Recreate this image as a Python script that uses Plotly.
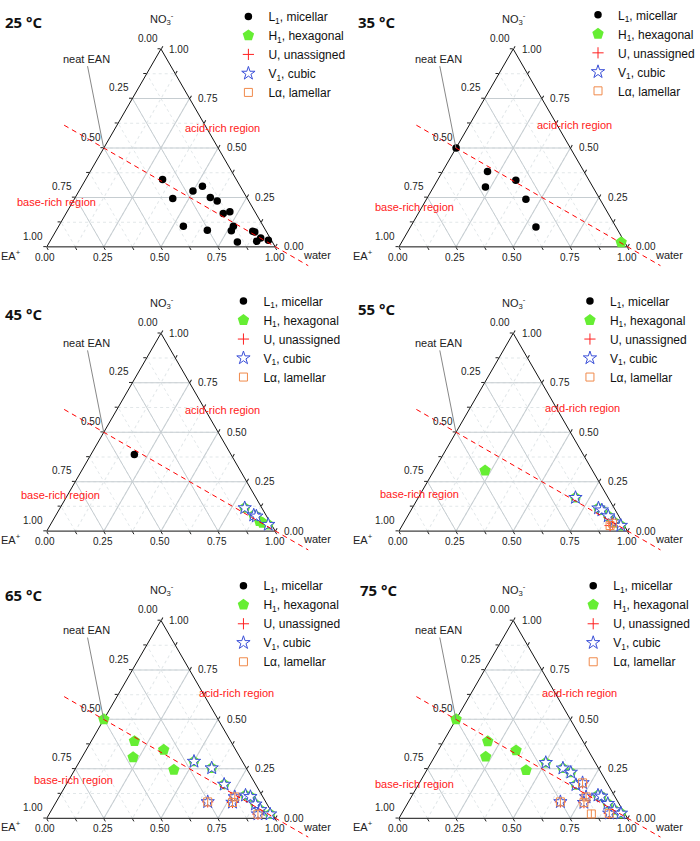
import math
import plotly.graph_objects as go

FONT = "Arial, Liberation Sans, sans-serif"
W, H = 700, 841

# ---------------- data (fractions) ----------------
# a = NO3- fraction (top vertex), c = water fraction (bottom-right vertex);
# the EA+ fraction (bottom-left vertex) is 1 - a - c (filled in by plotly, sum = 1)
temps = ["25 °C", "35 °C", "45 °C", "55 °C", "65 °C", "75 °C"]

l1_25_no3 = [0.340, 0.245, 0.282, 0.307, 0.250, 0.232, 0.169, 0.177, 0.104,
             0.084, 0.104, 0.082, 0.025, 0.079, 0.075, 0.028, 0.045, 0.034]
l1_25_water = [0.337, 0.429, 0.499, 0.528, 0.591, 0.630, 0.688, 0.713, 0.546,
               0.661, 0.765, 0.767, 0.822, 0.862, 0.873, 0.905, 0.914, 0.953]

l1_35_no3 = [0.500, 0.381, 0.303, 0.337, 0.241, 0.101]
l1_35_water = [0.000, 0.197, 0.227, 0.343, 0.435, 0.549]
h1_35_no3 = [0.023]
h1_35_water = [0.961]

l1_45_no3 = [0.387]
l1_45_water = [0.190]
h1_45_no3 = [0.117, 0.080, 0.075, 0.050, 0.042, 0.033]
h1_45_water = [0.808, 0.866, 0.880, 0.906, 0.924, 0.953]
v1_45_no3 = [0.117, 0.080, 0.075, 0.033]
v1_45_water = [0.808, 0.866, 0.880, 0.953]

h1_55_no3 = [0.306, 0.169, 0.116, 0.106, 0.076, 0.045, 0.028]
h1_55_water = [0.224, 0.688, 0.815, 0.835, 0.878, 0.920, 0.957]
v1_55_no3 = [0.169, 0.116, 0.106, 0.076, 0.045, 0.028]
v1_55_water = [0.688, 0.815, 0.835, 0.878, 0.920, 0.957]
la_55_no3 = [0.028, 0.040]
la_55_water = [0.910, 0.915]
u_55_no3 = [0.028, 0.040]
u_55_water = [0.910, 0.915]

h1_65_no3 = [0.500, 0.390, 0.308, 0.346, 0.245,
             0.287, 0.254, 0.171, 0.116, 0.109, 0.071, 0.043, 0.021]
h1_65_water = [0.000, 0.189, 0.224, 0.339, 0.434,
               0.501, 0.595, 0.691, 0.812, 0.837, 0.878, 0.913, 0.967]
v1_65_no3 = [0.287, 0.254, 0.171, 0.116, 0.109, 0.071, 0.043, 0.021,
             0.083, 0.080, 0.108, 0.021]
v1_65_water = [0.501, 0.595, 0.691, 0.812, 0.837, 0.878, 0.913, 0.967,
               0.663, 0.773, 0.769, 0.914]
la_65_no3 = [0.083, 0.080, 0.108, 0.021]
la_65_water = [0.663, 0.773, 0.769, 0.914]
u_65_no3 = [0.083, 0.080, 0.108, 0.021]
u_65_water = [0.663, 0.773, 0.769, 0.914]

h1_75_no3 = [0.500, 0.389, 0.311, 0.343, 0.243,
             0.281, 0.253, 0.232, 0.169, 0.116, 0.111, 0.074, 0.042, 0.025]
h1_75_water = [0.000, 0.194, 0.224, 0.341, 0.435,
               0.502, 0.591, 0.636, 0.690, 0.813, 0.830, 0.877, 0.922, 0.959]
v1_75_no3 = [0.281, 0.253, 0.232, 0.169, 0.116, 0.111, 0.074, 0.042, 0.025,
             0.179, 0.083, 0.108, 0.079, 0.025]
v1_75_water = [0.502, 0.591, 0.636, 0.690, 0.813, 0.830, 0.877, 0.922, 0.959,
               0.714, 0.665, 0.765, 0.770, 0.908]
la_75_no3 = [0.179, 0.083, 0.108, 0.079, 0.025, 0.022]
la_75_water = [0.714, 0.665, 0.765, 0.770, 0.908, 0.831]
u_75_no3 = [0.179, 0.083, 0.108, 0.079, 0.025]
u_75_water = [0.714, 0.665, 0.765, 0.770, 0.908]

EMPTY = [None]

# per panel tables built from the arrays above: (no3, water) for each phase
panel_l1 = [(l1_25_no3, l1_25_water), (l1_35_no3, l1_35_water), (l1_45_no3, l1_45_water),
            (EMPTY, EMPTY), (EMPTY, EMPTY), (EMPTY, EMPTY)]
panel_h1 = [(EMPTY, EMPTY), (h1_35_no3, h1_35_water), (h1_45_no3, h1_45_water),
            (h1_55_no3, h1_55_water), (h1_65_no3, h1_65_water), (h1_75_no3, h1_75_water)]
panel_u = [(EMPTY, EMPTY), (EMPTY, EMPTY), (EMPTY, EMPTY),
           (u_55_no3, u_55_water), (u_65_no3, u_65_water), (u_75_no3, u_75_water)]
panel_v1 = [(EMPTY, EMPTY), (EMPTY, EMPTY), (v1_45_no3, v1_45_water),
            (v1_55_no3, v1_55_water), (v1_65_no3, v1_65_water), (v1_75_no3, v1_75_water)]
panel_la = [(EMPTY, EMPTY), (EMPTY, EMPTY), (EMPTY, EMPTY),
            (la_55_no3, la_55_water), (la_65_no3, la_65_water), (la_75_no3, la_75_water)]

# axis tick values (fraction along each edge)
tick_vals = [0.0, 0.25, 0.5, 0.75, 1.0]

# reference lines / labels in ternary coordinates (NO3-, water)
neat_ean = (0.5, 0.0)
ref_line_start = (0.615, -0.23)   # EA+ = NO3- line, extended beyond the triangle
ref_line_end = (-0.095, 1.19)
acid_label_pos = [(0.60, 0.47), (0.617, 0.459), (0.614, 0.461), (0.624, 0.489), (0.632, 0.515), (0.634, 0.472)]
base_label_pos = [(0.229, -0.071), (0.201, -0.032), (0.18, -0.027), (0.189, -0.005), (0.192, 0.022), (0.174, -0.018)]

# ---------------- layout geometry (pixels) ----------------
SIDE = 231.5
TRI_H = SIDE * math.sqrt(3) / 2
tri_cx = [162.6, 518.4, 162.6, 518.4, 162.6, 518.4]
tri_base = [239.0, 239.0, 527.0, 527.0, 818.0, 818.0]
title_px = [(3, 11), (360, 11), (3, 306.7), (360, 301.7), (3, 591.7), (362, 586.7)]
legend_text_x = [266.7, 620.0, 261.7, 611.7, 261.7, 615.0]
legend_row1_y = [9.8, 8.2, 298.2, 298.2, 586.7, 586.7]


def to_paper(i, a, c):
    x = tri_cx[i] - SIDE / 2 + SIDE * (c + a / 2)
    y = tri_base[i] - TRI_H * a
    return x / W, 1 - y / H


def offset(pt, dx, dy):
    return pt[0] + dx / W, pt[1] - dy / H


def domain(i):
    return dict(x=[(tri_cx[i] - SIDE / 2) / W, (tri_cx[i] + SIDE / 2) / W],
                y=[1 - tri_base[i] / H, 1 - (tri_base[i] - TRI_H) / H])


minor_vals = [k / 8 for k in range(9)]

minor_axis = dict(tickmode="array", tickvals=minor_vals,
                  ticks="outside", ticklen=3, tickwidth=1, tickcolor="#222",
                  showticklabels=False, showgrid=True, gridcolor="#e2e7e9",
                  griddash="dot", gridwidth=1, showline=False,
                  layer="below traces", title=dict(text=""))
major_axis = dict(tickmode="array", tickvals=tick_vals,
                  ticks="", showticklabels=False,
                  showgrid=True, gridcolor="#c6cdd1", gridwidth=1,
                  showline=True, linecolor="#111", linewidth=1,
                  layer="below traces", title=dict(text=""))

GREEN = "#66ee33"
BLUE = "#3a4fd8"
ORANGE = "#f08a4b"
RED = "#ff2020"
TXT = "#222"

traces = []
layout = dict(width=W, height=H, margin=dict(l=0, r=0, t=0, b=0),
              paper_bgcolor="white", plot_bgcolor="white",
              font=dict(family=FONT, size=11, color=TXT),
              annotations=[], shapes=[])


def text_ann(x, y, text, size=11, color=TXT, xanchor="center", yanchor="middle", family=None):
    f = dict(size=size, color=color)
    if family:
        f["family"] = family
    return dict(x=x, y=y, xref="paper", yref="paper", showarrow=False, text=text,
                xanchor=xanchor, yanchor=yanchor, font=f)


for i in range(6):
    base_id = "ternary" if i == 0 else "ternary%d" % (2 * i + 1)
    top_id = "ternary%d" % (2 * i + 2)
    leg_id = "legend" if i == 0 else "legend%d" % (i + 1)

    layout[base_id] = dict(domain=domain(i), sum=1, bgcolor="rgba(0,0,0,0)",
                           aaxis=minor_axis, baxis=minor_axis, caxis=minor_axis)
    layout[top_id] = dict(domain=domain(i), sum=1, bgcolor="rgba(0,0,0,0)",
                          aaxis=major_axis, baxis=major_axis, caxis=major_axis)
    layout[leg_id] = dict(x=(legend_text_x[i] - 36) / W, y=1 - (legend_row1_y[i] - 19) / H,
                          xanchor="left", yanchor="top", bgcolor="rgba(0,0,0,0)",
                          borderwidth=0, tracegroupgap=0,
                          font=dict(family=FONT, size=12, color="#111"))

    traces.append(go.Scatterternary(a=EMPTY, c=EMPTY, subplot=base_id, mode="markers",
                                    showlegend=False, hoverinfo="skip"))

    def add(phase, name, rank, marker, data, extra=None):
        a, c = data
        traces.append(go.Scatterternary(
            a=a, c=c, sum=1, subplot=top_id, mode="markers", name=name,
            legend=leg_id, legendrank=rank, legendgroup="%s%d" % (phase, i),
            marker=marker, showlegend=True, cliponaxis=False))
        if extra is not None:
            traces.append(go.Scatterternary(
                a=a, c=c, sum=1, subplot=top_id, mode="markers",
                legend=leg_id, legendgroup="%s%d" % (phase, i), showlegend=False,
                marker=extra, cliponaxis=False, hoverinfo="skip"))

    # drawing order: hexagonal underneath, then unassigned, cubic, lamellar, micellar
    add("H1", "H<sub>1</sub>, hexagonal", 2,
        dict(symbol="pentagon", size=12, color=GREEN, line=dict(width=0)), panel_h1[i])
    add("U", "U, unassigned", 3,
        dict(symbol="cross-thin", size=8, color=RED, line=dict(width=1, color=RED)), panel_u[i])
    add("V1", "V<sub>1</sub>, cubic", 4,
        dict(symbol="star", size=10, color="white", line=dict(width=1, color=BLUE)), panel_v1[i])
    add("La", "Lα, lamellar", 5,
        dict(symbol="square-open", size=8, color=ORANGE, line=dict(width=1, color=ORANGE)),
        panel_la[i],
        extra=dict(symbol="line-ns", size=6, color=ORANGE, line=dict(width=1, color=ORANGE)))
    add("L1", "L<sub>1</sub>, micellar", 1,
        dict(symbol="circle", size=7.5, color="black", line=dict(width=0)), panel_l1[i])

    # red dashed stoichiometric line (EA+ = NO3-)
    p0 = to_paper(i, *ref_line_start)
    p1 = to_paper(i, *ref_line_end)
    layout["shapes"].append(dict(type="line", xref="paper", yref="paper",
                                 x0=p0[0], y0=p0[1], x1=p1[0], y1=p1[1],
                                 line=dict(color="#ff0000", width=1, dash="5px,4px"),
                                 layer="above"))

    ann = layout["annotations"]
    # tick labels: left edge shows the EA+ scale, right edge NO3-, bottom water
    for v in tick_vals:
        x, y = offset(to_paper(i, v, 0.0), -13.3, -11)
        ann.append(text_ann(x, y, "%.2f" % (1 - v), size=10))
        x, y = offset(to_paper(i, v, 1 - v), 6.5, 0)
        ann.append(text_ann(x, y, "%.2f" % v, size=10, xanchor="left"))
        x, y = offset(to_paper(i, 0.0, v), -1, 10.5)
        ann.append(text_ann(x, y, "%.2f" % v, size=10))

    top = to_paper(i, 1, 0)
    bl = to_paper(i, 0, 0)
    br = to_paper(i, 0, 1)
    x, y = offset(top, 1, -30.5)
    ann.append(text_ann(x, y, "NO<sub>3</sub><sup>-</sup>"))
    x, y = offset(bl, -36, 8)
    ann.append(text_ann(x, y, "EA<sup>+</sup>"))
    x, y = offset(br, 42, 8.5)
    ann.append(text_ann(x, y, "water"))
    x, y = to_paper(i, *neat_ean)
    ann.append(dict(x=x, y=y, xref="paper", yref="paper", showarrow=True,
                    ax=-17.6, ay=-89.3, arrowhead=0, arrowwidth=1, arrowcolor="#888",
                    standoff=0, text="neat EAN", font=dict(size=11, color=TXT)))
    x, y = to_paper(i, *acid_label_pos[i])
    ann.append(text_ann(x, y, "acid-rich region", color=RED))
    x, y = to_paper(i, *base_label_pos[i])
    ann.append(text_ann(x, y, "base-rich region", color=RED))
    tx, ty = title_px[i]
    ann.append(text_ann(tx / W, 1 - ty / H, "<b>%s</b>" % temps[i], size=15, color="#111",
                        xanchor="left", family="Open Sans, Arial, sans-serif"))

fig = go.Figure(data=traces, layout=layout, skip_invalid=True)
fig.write_html("out.html", config={"displayModeBar": False},
               post_script="document.body.style.margin='0px';")
